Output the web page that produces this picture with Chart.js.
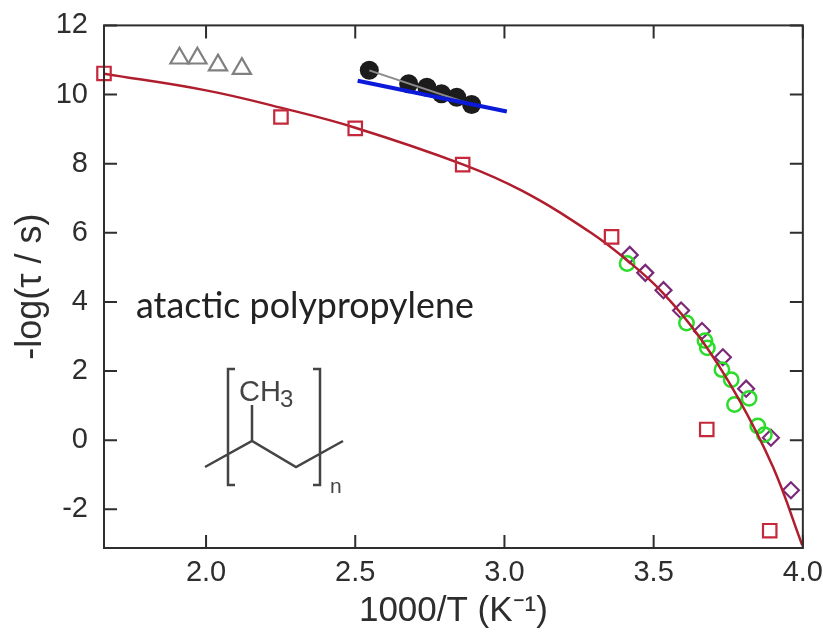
<!DOCTYPE html>
<html>
<head>
<meta charset="utf-8">
<style>
  html, body { margin: 0; padding: 0; background: #fff; }
  canvas { display: block; }
</style>
<script src="https://cdn.jsdelivr.net/npm/chart.js@4/dist/chart.umd.min.js"></script>
</head>
<body>
<canvas id="chart" width="823" height="632"></canvas>
<script>
// Tick labels
const xTicks = [2.0, 2.5, 3.0, 3.5, 4.0];
const yTicks = [-2, 0, 2, 4, 6, 8, 10, 12];

// Values
const squares = [
  { x: 1.658, y: 10.61 }, { x: 2.251, y: 9.35 }, { x: 2.5, y: 9.02 }, { x: 2.86, y: 7.97 },
  { x: 3.359, y: 5.88 }, { x: 3.678, y: 0.31 }, { x: 3.889, y: -2.62 },
];
const triangles = [
  { x: 1.911, y: 11.05 }, { x: 1.971, y: 11.05 }, { x: 2.04, y: 10.85 }, { x: 2.12, y: 10.75 },
];
const blackCircles = [
  { x: 2.547, y: 10.7 }, { x: 2.679, y: 10.31 }, { x: 2.74, y: 10.21 },
  { x: 2.789, y: 10.02 }, { x: 2.84, y: 9.92 }, { x: 2.89, y: 9.71 },
];
const blueLine = [{ x: 2.508, y: 10.4 }, { x: 3.008, y: 9.51 }];
const diamonds = [
  { x: 3.42, y: 5.36 }, { x: 3.472, y: 4.84 }, { x: 3.533, y: 4.34 }, { x: 3.592, y: 3.75 },
  { x: 3.662, y: 3.16 }, { x: 3.732, y: 2.4 }, { x: 3.81, y: 1.49 }, { x: 3.893, y: 0.07 },
  { x: 3.96, y: -1.45 },
];
const greenCircles = [
  { x: 3.411, y: 5.11 }, { x: 3.61, y: 3.39 }, { x: 3.672, y: 2.88 }, { x: 3.68, y: 2.67 },
  { x: 3.729, y: 2.04 }, { x: 3.76, y: 1.75 }, { x: 3.82, y: 1.21 }, { x: 3.771, y: 1.03 },
  { x: 3.849, y: 0.41 }, { x: 3.871, y: 0.16 },
];
const redCurve = [
  { x: 1.658, y: 10.6 }, { x: 2.0, y: 10.12 }, { x: 2.25, y: 9.62 }, { x: 2.5, y: 9.04 },
  { x: 2.86, y: 7.98 }, { x: 3.06, y: 7.21 }, { x: 3.29, y: 6.0 }, { x: 3.42, y: 5.14 },
  { x: 3.53, y: 4.27 }, { x: 3.654, y: 2.98 }, { x: 3.782, y: 1.24 }, { x: 3.9, y: -0.78 },
  { x: 3.998, y: -3.04 },
];

const ink = '#2e2e2e';

// Frame and inward ticks on all four sides
const frameTicks = {
  id: 'frameTicks',
  afterDatasetsDraw(chart) {
    const { ctx, chartArea: a, scales } = chart;
    ctx.save();
    ctx.strokeStyle = ink;
    ctx.lineWidth = 2;
    ctx.strokeRect(a.left, a.top, a.right - a.left, a.bottom - a.top);
    ctx.beginPath();
    xTicks.forEach((v) => {
      const px = scales.x.getPixelForValue(v);
      ctx.moveTo(px, a.top); ctx.lineTo(px, a.top + 13);
      ctx.moveTo(px, a.bottom); ctx.lineTo(px, a.bottom - 13);
    });
    yTicks.forEach((v) => {
      const py = scales.y.getPixelForValue(v);
      ctx.moveTo(a.left, py); ctx.lineTo(a.left + 13, py);
      ctx.moveTo(a.right, py); ctx.lineTo(a.right - 13, py);
    });
    ctx.stroke();
    ctx.restore();
  },
};

// Sample name and the repeat unit drawing
const annotations = {
  id: 'annotations',
  afterDraw(chart) {
    const ctx = chart.ctx;
    ctx.save();
    ctx.fillStyle = '#222';
    ctx.font = '35.8px Lato';
    ctx.textBaseline = 'alphabetic';
    ctx.fillText('atactic polypropylene', 136, 318);

    ctx.strokeStyle = '#444';
    ctx.fillStyle = '#444';
    ctx.lineWidth = 2.5;
    ctx.beginPath();
    ctx.moveTo(235, 369); ctx.lineTo(228, 369); ctx.lineTo(228, 485); ctx.lineTo(235, 485);
    ctx.moveTo(313, 369); ctx.lineTo(320, 369); ctx.lineTo(320, 485); ctx.lineTo(313, 485);
    ctx.moveTo(205, 467); ctx.lineTo(252, 441); ctx.lineTo(296, 467); ctx.lineTo(343, 441);
    ctx.moveTo(252, 441); ctx.lineTo(252, 405);
    ctx.stroke();
    ctx.font = '29px "Liberation Sans"';
    ctx.fillText('CH', 239, 401);
    ctx.font = '24px "Liberation Sans"';
    ctx.fillText('3', 280, 407);
    ctx.font = '21px "Liberation Sans"';
    ctx.fillText('n', 330, 493);
    ctx.restore();
  },
};

new Chart(document.getElementById('chart'), {
  type: 'scatter',
  data: {
    datasets: [
      {
        label: 'squares',
        data: squares,
        pointStyle: 'rect',
        pointRadius: 9.5,
        pointBorderWidth: 2.2,
        pointBorderColor: '#c4283a',
        pointBackgroundColor: 'rgba(0,0,0,0)',
        clip: false,
      },
      {
        label: 'fit',
        data: redCurve,
        showLine: true,
        tension: 0.4,
        borderColor: '#b01e2e',
        borderWidth: 2.5,
        pointRadius: 0,
      },
      {
        label: 'blue line',
        data: blueLine,
        showLine: true,
        borderColor: '#0a1ad8',
        borderWidth: 4,
        pointRadius: 0,
      },
      {
        label: 'grey line',
        data: [blackCircles[0], blackCircles[blackCircles.length - 1]],
        showLine: true,
        borderColor: '#8a8a8a',
        borderWidth: 2,
        pointRadius: 0,
      },
      {
        label: 'black circles',
        data: blackCircles,
        pointStyle: 'circle',
        pointRadius: 9.5,
        pointBorderWidth: 0,
        pointBackgroundColor: '#1c1c1c',
      },
      {
        label: 'triangles',
        data: triangles,
        pointStyle: 'triangle',
        pointRadius: 10.5,
        pointBorderWidth: 2.2,
        pointBorderColor: '#808080',
        pointBackgroundColor: 'rgba(0,0,0,0)',
      },
      {
        label: 'green circles',
        data: greenCircles,
        pointStyle: 'circle',
        pointRadius: 7.2,
        pointBorderWidth: 2.5,
        pointBorderColor: '#2bdc2b',
        pointBackgroundColor: 'rgba(0,0,0,0)',
      },
      {
        label: 'diamonds',
        data: diamonds,
        pointStyle: 'rectRot',
        pointRadius: 8,
        pointBorderWidth: 2.2,
        pointBorderColor: '#7a2a78',
        pointBackgroundColor: 'rgba(0,0,0,0)',
      },
    ],
  },
  options: {
    responsive: false,
    animation: false,
    layout: { padding: { top: 24, right: 8, left: 0, bottom: 0 } },
    plugins: { legend: { display: false }, tooltip: { enabled: false } },
    scales: {
      x: {
        type: 'linear',
        min: 1.658,
        max: 4,
        afterBuildTicks(scale) {
          scale.ticks = xTicks.map((value) => ({ value }));
        },
        afterFit(scale) {
          scale.height = 84;
        },
        grid: { display: false },
        border: { display: false },
        ticks: {
          padding: 0,
          maxRotation: 0,
          autoSkip: false,
          color: ink,
          font: { family: 'Liberation Sans', size: 29 },
          callback: (v) => v.toFixed(1),
        },
        title: {
          display: true,
          text: '1000/T (K⁻¹)',
          color: ink,
          font: { family: 'Liberation Sans', size: 35 },
          padding: { top: 0, bottom: 0 },
        },
      },
      y: {
        type: 'linear',
        min: -3.12,
        max: 12,
        afterBuildTicks(scale) {
          scale.ticks = yTicks.map((value) => ({ value }));
        },
        afterFit(scale) {
          scale.width = 104;
        },
        grid: { display: false },
        border: { display: false },
        ticks: {
          padding: 8,
          autoSkip: false,
          color: ink,
          font: { family: 'Liberation Sans', size: 29 },
        },
        title: {
          display: true,
          text: '-log(τ / s)',
          color: ink,
          font: { family: 'Liberation Sans', size: 36 },
          padding: { top: 9, bottom: 0 },
        },
      },
    },
  },
  plugins: [frameTicks, annotations],
});
</script>
</body>
</html>
